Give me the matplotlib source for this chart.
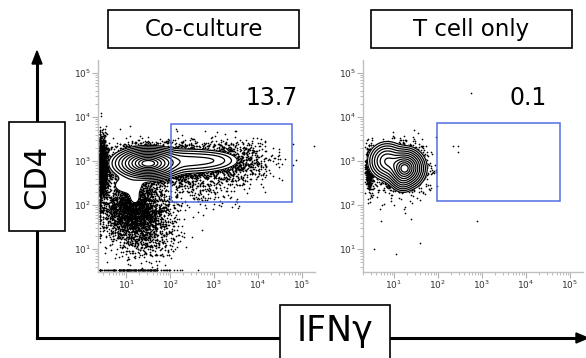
import numpy as np
import matplotlib
matplotlib.use("Agg")
import matplotlib.pyplot as plt
from matplotlib.patches import Rectangle, Polygon

# 图的标题与门内百分比
panel_titles = ["Co-culture", "T cell only"]
gate_percent = ["13.7", "0.1"]
x_label = "IFNγ"
y_label = "CD4"

# 门的范围 (log10 单位)
gate_x = [(2.02, 4.78), (1.98, 4.77)]
gate_y = [(2.07, 3.84), (2.09, 3.86)]
pct_x = [4.32, 4.05]
pct_y = 4.43
decades = [1, 2, 3, 4, 5]

# 等高线密度参数 (log10 单位): 中心 x, 中心 y, sx, sy, 权重
coc_cx = [1.50, 2.40, 3.00, 1.05, 1.20]
coc_cy = [2.95, 3.00, 3.02, 2.45, 2.15]
coc_sx = [0.28, 0.45, 0.25, 0.25, 0.10]
coc_sy = [0.128, 0.12, 0.09, 0.14, 0.12]
coc_w = [1.00, 0.08, 0.025, 0.012, 0.008]

tc_cx = [1.25, 0.85, 1.20]
tc_cy = [2.84, 3.00, 2.60]
tc_sx = [0.16, 0.16, 0.10]
tc_sy = [0.16, 0.16, 0.12]
tc_w = [1.00, 0.30, 0.10]

# 事件散点参数: 中心 x, 中心 y, sx, sy, 事件数
coc_ex = [1.50, 2.40, 1.15, 1.40, 3.50, 2.60, 0.45, 1.20, 3.00]
coc_ey = [2.95, 3.00, 1.95, 1.40, 3.00, 2.50, 2.85, 0.30, 3.00]
coc_esx = [0.45, 0.55, 0.36, 0.40, 0.40, 0.50, 0.06, 0.45, 0.80]
coc_esy = [0.21, 0.19, 0.35, 0.35, 0.25, 0.30, 0.35, 0.10, 0.30]
coc_en = [4000, 1500, 2600, 700, 600, 400, 1500, 180, 150]

tc_ex = [1.20, 0.45, 1.10]
tc_ey = [2.85, 2.85, 2.20]
tc_esx = [0.24, 0.04, 0.35]
tc_esy = [0.24, 0.22, 0.40]
tc_en = [2500, 900, 30]

# 稀疏散点 (T cell only)
tc_extra_x = [2.75, 2.35, 2.45, 2.45, 2.9, 1.95, 1.6, 1.55, 1.85, 0.55, 1.05]
tc_extra_y = [4.55, 3.35, 3.35, 3.2, 1.65, 3.55, 1.15, 2.45, 2.7, 1.0, 0.9]

xlims = [(0.36, 5.3), (0.3, 5.3)]
ylim = (0.48, 5.3)


def density(X, Y, cx, cy, sx, sy, w):
    Z = np.zeros_like(X)
    for a, b, c, d, e in zip(cx, cy, sx, sy, w):
        Z += e * np.exp(-0.5 * (((X - a) / c) ** 2 + ((Y - b) / d) ** 2))
    return Z


def events(cx, cy, sx, sy, n, seed, xmin):
    rng = np.random.default_rng(seed)
    xs, ys = [], []
    for a, b, c, d, k in zip(cx, cy, sx, sy, n):
        xs.append(rng.normal(a, c, k))
        ys.append(rng.normal(b, d, k))
    x = np.clip(np.concatenate(xs), xmin, None)
    y = np.clip(np.concatenate(ys), 0.53, None)
    return x, y


def style_axes(ax, xlim):
    ax.set_xlim(*xlim)
    ax.set_ylim(*ylim)
    for s in ["top", "right"]:
        ax.spines[s].set_visible(False)
    for s in ["left", "bottom"]:
        ax.spines[s].set_color("#c0c0c0")
        ax.spines[s].set_linewidth(1.0)
    ax.set_xticks(decades)
    ax.set_yticks(decades)
    ax.set_xticklabels([f"$10^{{{d}}}$" for d in decades])
    ax.set_yticklabels([f"$10^{{{d}}}$" for d in decades])
    minor = [np.log10(k * 10 ** d) for d in range(0, 6) for k in range(2, 10)]
    ax.set_xticks([m for m in minor if xlim[0] < m < xlim[1]], minor=True)
    ax.set_yticks([m for m in minor if ylim[0] < m < ylim[1]], minor=True)
    ax.tick_params(which="major", length=4, color="#b0b0b0", labelsize=6.5,
                   labelcolor="#333333", pad=1)
    ax.tick_params(which="minor", length=2, color="#b0b0b0")


fig = plt.figure(figsize=(5.86, 3.58), dpi=100)
W, H = 586, 358
ax1 = fig.add_axes([98 / W, 86 / H, 217 / W, 212 / H])
ax2 = fig.add_axes([363 / W, 86 / H, 220 / W, 212 / H])

dens = [(coc_cx, coc_cy, coc_sx, coc_sy, coc_w), (tc_cx, tc_cy, tc_sx, tc_sy, tc_w)]
evts = [(coc_ex, coc_ey, coc_esx, coc_esy, coc_en), (tc_ex, tc_ey, tc_esx, tc_esy, tc_en)]

# 等高线在高斯半径上等间距
radii = np.linspace(0.5, 3.2, 11)
rel_levels = np.sort(np.exp(-0.5 * radii ** 2))

for i, ax in enumerate([ax1, ax2]):
    x, y = events(*evts[i], seed=7 + i, xmin=xlims[i][0] + 0.05)
    if i == 1:
        x = np.concatenate([x, tc_extra_x])
        y = np.concatenate([y, tc_extra_y])
    ax.scatter(x, y, s=1.5, c="black", linewidths=0, zorder=1)

    gx = np.linspace(xlims[i][0], 5.3, 600)
    gy = np.linspace(ylim[0], 5.3, 600)
    X, Y = np.meshgrid(gx, gy)
    Z = density(X, Y, *dens[i])
    levels = rel_levels * Z.max()
    ax.contourf(X, Y, Z, levels=[levels[0], Z.max() * 2], colors="white", zorder=2)
    ax.contour(X, Y, Z, levels=levels, colors="black", linewidths=0.9, zorder=3)

    ax.add_patch(Rectangle((gate_x[i][0], gate_y[i][0]), gate_x[i][1] - gate_x[i][0],
                           gate_y[i][1] - gate_y[i][0], fill=False,
                           edgecolor="#4f6fe0", linewidth=1.1, zorder=4))
    ax.text(pct_x[i], pct_y, gate_percent[i], fontsize=17,
            ha="center", va="center", zorder=5)
    style_axes(ax, xlims[i])


def box(x0, y0, x1, y1):
    # 像素坐标 (左上原点) 的方框
    fig.patches.append(Rectangle((x0 / W, 1 - y1 / H), (x1 - x0) / W, (y1 - y0) / H,
                                 fill=True, fc="white", ec="black", lw=1.2,
                                 transform=fig.transFigure, zorder=5))


# 坐标箭头
fig.add_artist(plt.Line2D([37 / W, 37 / W], [1 - 338 / H, 1 - 62 / H], color="black",
                          lw=2.2, transform=fig.transFigure))
fig.add_artist(plt.Line2D([37 / W, 578 / W], [1 - 338 / H, 1 - 338 / H], color="black",
                          lw=2.2, transform=fig.transFigure))
fig.patches.append(Polygon([[32 / W, 1 - 64 / H], [42 / W, 1 - 64 / H], [37 / W, 1 - 51 / H]],
                           closed=True, color="black", transform=fig.transFigure))
fig.patches.append(Polygon([[576 / W, 1 - 333 / H], [576 / W, 1 - 343 / H], [588 / W, 1 - 338 / H]],
                           closed=True, color="black", transform=fig.transFigure))

# 标题框与轴标题框
box(108, 10, 299, 48)
box(371, 10, 572, 48)
box(9, 122, 65, 231)
box(280, 305, 390, 366)
fig.text(203.5 / W, 1 - 29.5 / H, panel_titles[0], fontsize=16.5, ha="center", va="center", zorder=6)
fig.text(471.5 / W, 1 - 29.5 / H, panel_titles[1], fontsize=16.5, ha="center", va="center", zorder=6)
fig.text(37 / W, 1 - 177 / H, y_label, fontsize=22, rotation=90, ha="center", va="center", zorder=6)
fig.text(335 / W, 1 - 331 / H, x_label, fontsize=25, ha="center", va="center", zorder=6)

fig.savefig("out.png", dpi=100)
